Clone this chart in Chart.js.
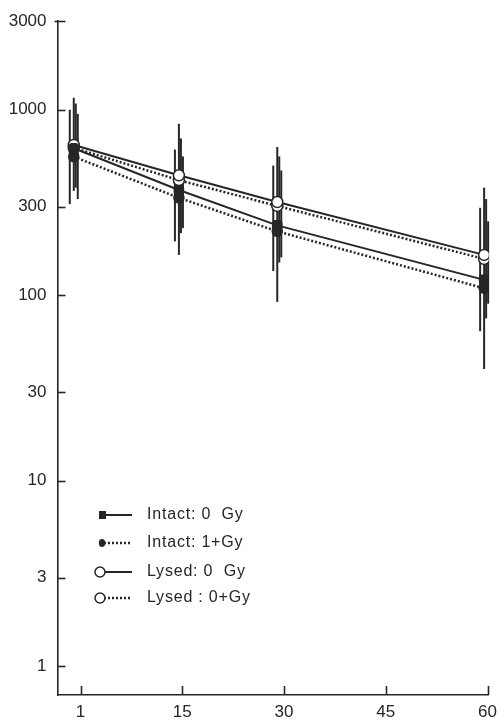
<!DOCTYPE html>
<html>
<head>
<meta charset="utf-8">
<script src="https://cdn.jsdelivr.net/npm/chart.js@4.4.1/dist/chart.umd.min.js"></script>
<style>
  html, body { margin: 0; padding: 0; background: #ffffff; }
  #wrap { width: 504px; height: 723px; }
</style>
</head>
<body>
<div id="wrap"><canvas id="c" width="504" height="723"></canvas></div>
<script>
// ---- data ----
const dayPositions = [-1, 14.5, 29, 59.5];          // x positions of the four sampling points
const xTickValues = [0, 15, 30, 45, 60];
const xTickLabels = ['1', '15', '30', '45', '60'];
const yTickValues = [1, 3, 10, 30, 100, 300, 1000, 3000];

const seriesLabels = ['Intact: 0  Gy', 'Intact: 1+Gy', 'Lysed: 0  Gy', 'Lysed : 0+Gy'];

const intact0 = [620, 369, 238, 121];
const intact1 = [558, 335, 221, 109];
const lysed0  = [646, 443, 318, 165];
const lysed0p = [623, 417, 303, 157];

const intact0Hi = [1160, 840, 630, 380];
const intact0Lo = [365, 165, 92, 40];
const intact1Hi = [1000, 610, 500, 296];
const intact1Lo = [310, 195, 135, 64];
const lysed0Hi  = [1080, 700, 560, 330];
const lysed0Lo  = [380, 216, 150, 75];
const lysed0pHi = [950, 560, 470, 250];
const lysed0pLo = [330, 230, 160, 90];

const ink = '#262626';
const FONT = '"Liberation Sans", Arial, Helvetica, sans-serif';

const errorSets = [
  { hi: intact0Hi, lo: intact0Lo, dx: 0 },
  { hi: intact1Hi, lo: intact1Lo, dx: -4 },
  { hi: lysed0Hi,  lo: lysed0Lo,  dx: 2 },
  { hi: lysed0pHi, lo: lysed0pLo, dx: 4 }
];

const pts = arr => arr.map((v, i) => ({ x: dayPositions[i], y: v }));

const errorBarPlugin = {
  id: 'errorBars',
  beforeDatasetsDraw(chart) {
    const { ctx, scales: { x, y } } = chart;
    ctx.save();
    ctx.strokeStyle = ink;
    ctx.lineWidth = 2;
    errorSets.forEach(s => {
      s.hi.forEach((h, i) => {
        const px = x.getPixelForValue(dayPositions[i]) + s.dx;
        ctx.beginPath();
        ctx.moveTo(px, y.getPixelForValue(h));
        ctx.lineTo(px, y.getPixelForValue(s.lo[i]));
        ctx.stroke();
      });
    });
    ctx.restore();
  }
};

const innerTicksPlugin = {
  id: 'innerTicks',
  afterDraw(chart) {
    const { ctx, chartArea: a, scales: { x, y } } = chart;
    ctx.save();
    ctx.strokeStyle = ink;
    ctx.lineWidth = 1.6;
    yTickValues.forEach(v => {
      const py = Math.round(y.getPixelForValue(v)) + 0.5;
      ctx.beginPath();
      ctx.moveTo(v === 3000 ? a.left - 3 : a.left, py);
      ctx.lineTo(a.left + 8, py);
      ctx.stroke();
    });
    xTickValues.forEach(v => {
      const px = Math.round(x.getPixelForValue(v)) + 0.5;
      ctx.beginPath();
      ctx.moveTo(px, a.bottom);
      ctx.lineTo(px, a.bottom - 9);
      ctx.stroke();
    });
    ctx.restore();
  }
};

const legendPlugin = {
  id: 'handLegend',
  afterDraw(chart) {
    const { ctx } = chart;
    const rows = [515, 543, 572, 598];
    ctx.save();
    ctx.font = '16px ' + FONT;
    ctx.fillStyle = ink;
    ctx.textBaseline = 'middle';
    try { ctx.letterSpacing = '0.8px'; } catch (e) {}
    chart.data.datasets.forEach((ds, i) => {
      const yy = rows[i];
      ctx.strokeStyle = ink;
      ctx.lineWidth = ds.borderDash && ds.borderDash.length ? 2.5 : 2;
      ctx.setLineDash(ds.borderDash || []);
      ctx.beginPath();
      ctx.moveTo(104, yy);
      ctx.lineTo(132, yy);
      ctx.stroke();
      ctx.setLineDash([]);
      ctx.lineWidth = 1.5;
      if (i === 0) {
        ctx.fillRect(99, yy - 4, 7, 8);
      } else if (i === 1) {
        ctx.beginPath();
        ctx.ellipse(102, yy, 3.2, 4, 0, 0, Math.PI * 2);
        ctx.fill();
      } else {
        ctx.beginPath();
        ctx.arc(100, yy, 5, 0, Math.PI * 2);
        ctx.fillStyle = '#fff';
        ctx.fill();
        ctx.stroke();
        ctx.fillStyle = ink;
      }
      ctx.fillText(ds.label, 147, yy);
    });
    ctx.restore();
  }
};

new Chart(document.getElementById('c'), {
  type: 'line',
  data: {
    datasets: [
      { label: seriesLabels[0], data: pts(intact0), borderColor: ink, backgroundColor: ink,
        borderWidth: 2, pointStyle: 'rectRounded', pointRadius: 5, borderDash: [] },
      { label: seriesLabels[1], data: pts(intact1), borderColor: ink, backgroundColor: ink,
        borderWidth: 2.5, pointStyle: 'circle', pointRadius: 4.5, borderDash: [2, 2] },
      { label: seriesLabels[2], data: pts(lysed0), borderColor: ink, backgroundColor: '#fff',
        borderWidth: 2, pointStyle: 'circle', pointRadius: 5.5, pointBorderWidth: 1.5, borderDash: [] },
      { label: seriesLabels[3], data: pts(lysed0p), borderColor: ink, backgroundColor: '#fff',
        borderWidth: 2.5, pointStyle: 'circle', pointRadius: 5.5, pointBorderWidth: 1.5, borderDash: [2, 2] }
    ]
  },
  options: {
    responsive: false,
    animation: false,
    devicePixelRatio: 1,
    layout: { padding: { top: 12, right: 7, left: 0, bottom: 0 } },
    plugins: { legend: { display: false }, tooltip: { enabled: false } },
    scales: {
      x: {
        type: 'linear',
        min: -3.4,
        max: 60.2,
        grid: { display: false, drawTicks: false },
        border: { display: true, color: ink, width: 1.6 },
        afterBuildTicks: s => { s.ticks = xTickValues.map(v => ({ value: v })); },
        afterFit: s => { s.height = 28; },
        ticks: {
          color: ink,
          font: { family: FONT, size: 17 },
          padding: 7,
          maxRotation: 0,
          autoSkip: false,
          callback: v => xTickLabels[xTickValues.indexOf(v)]
        }
      },
      y: {
        type: 'logarithmic',
        min: 0.722,
        max: 3000,
        grid: { display: false, drawTicks: false },
        border: { display: true, color: ink, width: 1.6 },
        afterBuildTicks: s => { s.ticks = yTickValues.map(v => ({ value: v })); },
        afterFit: s => { s.width = 57.5; },
        ticks: {
          color: ink,
          font: { family: FONT, size: 17 },
          padding: 11,
          autoSkip: false,
          callback: v => String(v)
        }
      }
    }
  },
  plugins: [errorBarPlugin, innerTicksPlugin, legendPlugin]
});
</script>
</body>
</html>
